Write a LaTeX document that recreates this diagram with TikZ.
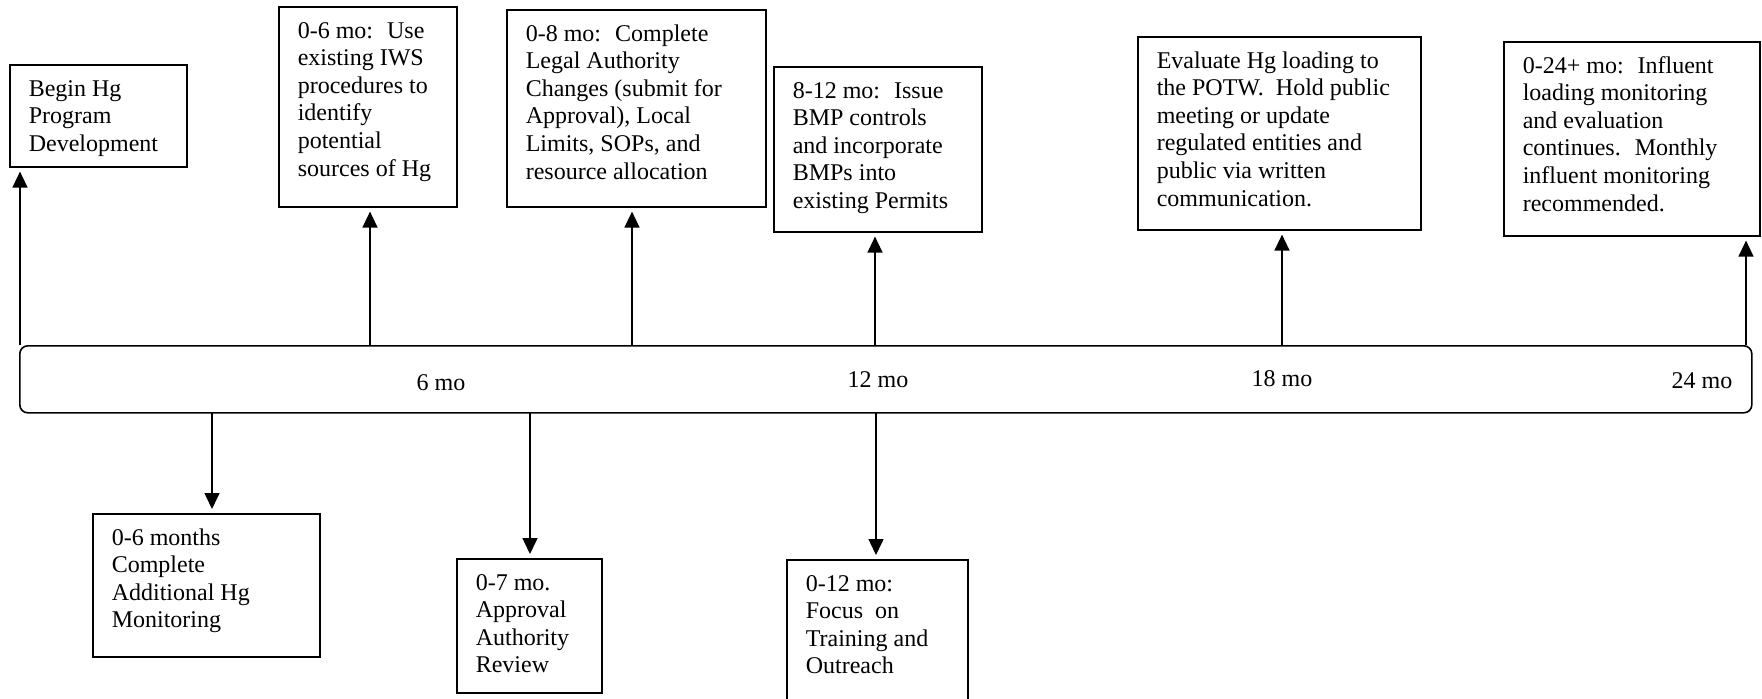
\documentclass[tikz,border=0pt]{standalone}
\usepackage{fontspec}
\setmainfont{Liberation Serif}
\usetikzlibrary{arrows.meta}

% top-aligned text inside a box of w x h pixels
\newcommand{\boxtxt}[3]{\parbox[t][\dimexpr#2pt/2-12pt\relax][t]{\dimexpr#1pt/2-19pt\relax}{\raggedright\strut#3}}

\begin{document}
\begin{tikzpicture}[x=0.5pt, y=-0.5pt,
        stage/.style={draw, line width=0.8pt, anchor=north west,
            inner xsep=9.5pt, inner ysep=6pt, font=\fontsize{12}{13.8}\selectfont},
        lbl/.style={font=\fontsize{12}{13.8}\selectfont, inner sep=0pt},
        arr/.style={-{Triangle[length=8pt,width=7.5pt]}, line width=0.75pt, shorten >=2pt}]
    \useasboundingbox (0,0) rectangle (1762,698);

    %--- Time line ---
    \node[draw, line width=0.8pt, rounded corners=4pt, anchor=north west,
        minimum width=866pt, minimum height=33.5pt, inner sep=0pt] (bar) at (19,345) {};
    \node[lbl] (m6)  at (441,383)  {6 mo};
    \node[lbl] (m12) at (878,380)  {12 mo};
    \node[lbl] (m18) at (1282,379) {18 mo};
    \node[lbl] (m24) at (1702,381) {24 mo};

    %--- Boxes above ---
    \node[stage] (begin) at (9,64)    {\boxtxt{177}{102}{Begin Hg\\Program\\Development}};
    \node[stage] (iws)   at (278,6)   {\boxtxt{178}{200}{0-6 mo:~ Use\\existing IWS\\procedures to\\identify\\potential\\sources of Hg}};
    \node[stage] (legal) at (506,9)   {\boxtxt{259}{197}{0-8 mo:~ Complete\\Legal Authority\\Changes (submit for\\Approval), Local\\Limits, SOPs, and\\resource allocation}};
    \node[stage] (bmp)   at (773,66)  {\boxtxt{208}{165}{8-12 mo:~ Issue\\BMP controls\\and incorporate\\BMPs into\\existing Permits}};
    \node[stage] (eval)  at (1137,36) {\boxtxt{283}{193}{Evaluate Hg loading to\\the POTW.~ Hold public\\meeting or update\\regulated entities and\\public via written\\communication.}};
    \node[stage] (infl)  at (1503,41) {\boxtxt{256}{194}{0-24+ mo:~ Influent\\loading monitoring\\and evaluation\\continues.~ Monthly\\influent monitoring\\recommended.}};

    %--- Boxes below ---
    \node[stage] (addmon) at (92,513)  {\boxtxt{227}{143}{0-6 months\\Complete\\Additional Hg\\Monitoring}};
    \node[stage] (review) at (456,558) {\boxtxt{145}{134}{0-7 mo.\\Approval\\Authority\\Review}};
    \node[stage] (train)  at (786,559) {\boxtxt{181}{180}{0-12 mo:\\Focus~ on\\Training and\\Outreach}};

    %--- Up arrows ---
    \coordinate (u1) at (20,345);
    \coordinate (u2) at (370,345);
    \coordinate (u3) at (632,345);
    \coordinate (u4) at (875,345);
    \coordinate (u5) at (1282,345);
    \coordinate (u6) at (1746,345);
    \draw[arr] (u1) -- (u1 |- begin.south);
    \draw[arr] (u2) -- (u2 |- iws.south);
    \draw[arr] (u3) -- (u3 |- legal.south);
    \draw[arr] (u4) -- (u4 |- bmp.south);
    \draw[arr] (u5) -- (u5 |- eval.south);
    \draw[arr] (u6) -- (u6 |- infl.south);

    %--- Down arrows ---
    \coordinate (d1) at (212,412);
    \coordinate (d2) at (530,412);
    \coordinate (d3) at (876,412);
    \draw[arr] (d1) -- (d1 |- addmon.north);
    \draw[arr] (d2) -- (d2 |- review.north);
    \draw[arr] (d3) -- (d3 |- train.north);
\end{tikzpicture}
\end{document}
